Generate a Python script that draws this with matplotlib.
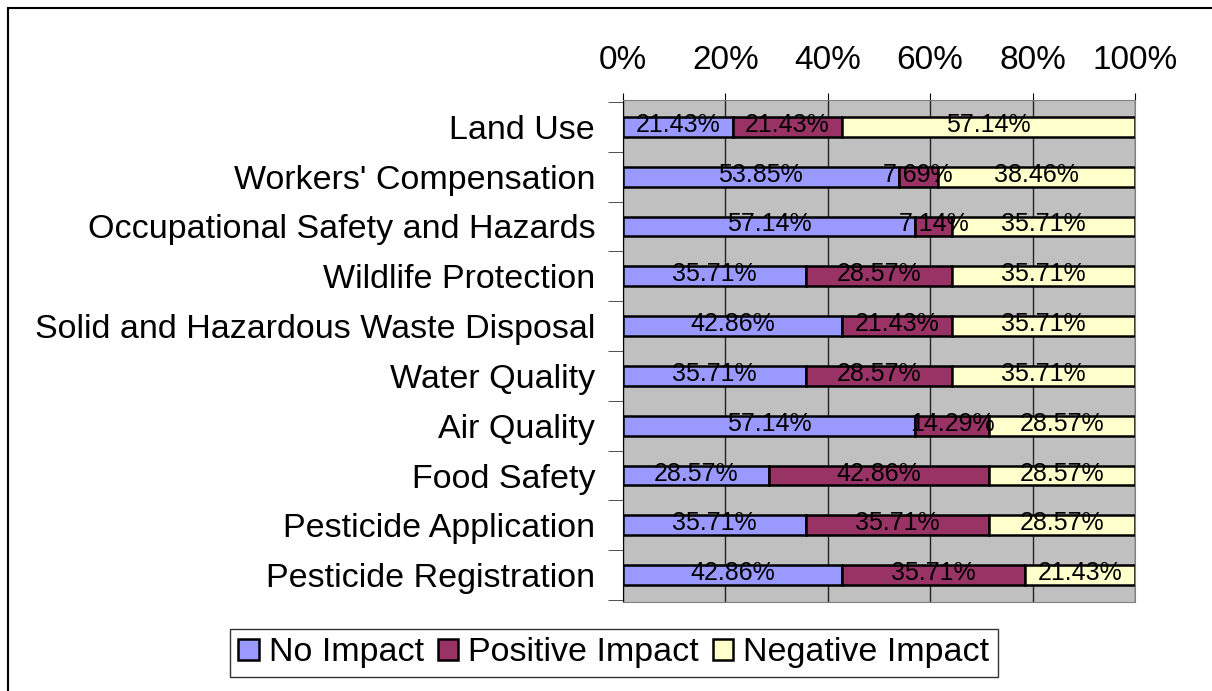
import matplotlib.pyplot as plt
import numpy as np
from matplotlib.patches import Rectangle

plt.rcParams['font.family'] = ['Liberation Sans', 'DejaVu Sans']

# Categories listed top to bottom
categories = ['Land Use', "Workers' Compensation", 'Occupational Safety and Hazards',
              'Wildlife Protection', 'Solid and Hazardous Waste Disposal', 'Water Quality',
              'Air Quality', 'Food Safety', 'Pesticide Application', 'Pesticide Registration']
no_impact = [21.43, 53.85, 57.14, 35.71, 42.86, 35.71, 57.14, 28.57, 35.71, 42.86]
positive_impact = [21.43, 7.69, 7.14, 28.57, 21.43, 28.57, 14.29, 42.86, 35.71, 35.71]
negative_impact = [57.14, 38.46, 35.71, 35.71, 35.71, 35.71, 28.57, 28.57, 28.57, 21.43]

series = [('No Impact', no_impact, '#9999FF'),
          ('Positive Impact', positive_impact, '#993366'),
          ('Negative Impact', negative_impact, '#FFFFCC')]

fig = plt.figure(figsize=(12.12, 6.91), dpi=100)
ax = fig.add_axes([0.514, 0.1288, 0.4224, 0.7265])

# outer chart frame
fig.patches.append(Rectangle((8 / 1212, -0.1), 1.2, 1 - 8 / 691 + 0.1, transform=fig.transFigure,
                             fill=False, edgecolor='black', linewidth=1.5, zorder=0))

ax.set_facecolor('#C0C0C0')
y = np.arange(len(categories))
left = np.zeros(len(categories))
for name, vals, color in series:
    ax.barh(y, vals, left=left, height=0.4, color=color, edgecolor='black',
            linewidth=1.8, label=name, zorder=3)
    for yi, l, v in zip(y, left, vals):
        ax.text(l + v / 2, yi - 0.04, f'{v:.2f}%', ha='center', va='center', fontsize=18,
                color='black', zorder=4)
    left = left + np.array(vals)

ax.set_xlim(0, 100)
ax.set_ylim(len(categories) - 0.46, -0.54)
ax.xaxis.tick_top()
ax.set_xticks(range(0, 101, 20))
ax.set_xticklabels([f'{t}%' for t in range(0, 101, 20)], fontsize=24)
ax.tick_params(axis='x', length=5, pad=12, color='black')
ax.grid(axis='x', color='#222222', linewidth=1, zorder=1)

ax.set_yticks(y)
ax.set_yticklabels(categories, fontsize=24.5)
ax.tick_params(axis='y', which='major', length=0, pad=20)
ax.set_yticks(np.arange(-0.5, len(categories), 1), minor=True)
ax.tick_params(axis='y', which='minor', length=11, direction='out', color='#333333')

ax.spines['left'].set_color('black')
for s in ['top', 'right', 'bottom']:
    ax.spines[s].set_color('#808080')

leg = fig.legend(loc='center', bbox_to_anchor=(614 / 1212, 1 - 653 / 691), ncol=3,
                 fontsize=24.5, frameon=True, fancybox=False, edgecolor='black',
                 handlelength=0.6, handleheight=0.6, handletextpad=0.3,
                 columnspacing=0.4, borderpad=0.25)
leg.get_frame().set_linewidth(1)

fig.savefig('out.png', dpi=100)
